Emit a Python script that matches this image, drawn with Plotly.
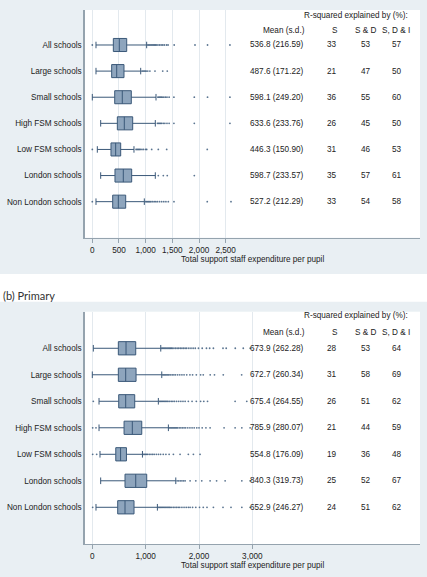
import plotly.graph_objects as go

# ---------------- data ----------------
categories = ["All schools", "Large schools", "Small schools", "High FSM schools",
              "Low FSM schools", "London schools", "Non London schools"]

# (a) Secondary panel (top)
sec_lowerfence = [69, 69, 0, 157, 94, 157, 69]
sec_q1 = [394, 363, 420, 469, 350, 425, 382]
sec_median = [506, 457, 562, 600, 438, 581, 488]
sec_q3 = [645, 594, 731, 757, 532, 738, 626]
sec_upperfence = [1019, 907, 1194, 1181, 781, 1181, 975]
sec_outliers = [
    [0, 1040, 1060, 1080, 1100, 1120, 1140, 1160, 1180, 1200, 1230, 1260, 1290, 1320, 1350, 1390, 1420, 1535, 1925, 2160, 2580],
    [930, 950, 970, 990, 1010, 1040, 1080, 1175, 1320, 1405],
    [1230, 1250, 1270, 1290, 1310, 1340, 1370, 1400, 1440, 1530, 1912, 2160, 2580],
    [1220, 1240, 1260, 1280, 1300, 1330, 1360, 1400, 1440, 1530, 1912, 2580],
    [0, 820, 840, 860, 880, 900, 930, 960, 1000, 1020, 1113, 1237, 1394, 2155],
    [1237, 1331, 1405, 1912],
    [0, 1000, 1020, 1040, 1060, 1080, 1100, 1130, 1160, 1190, 1220, 1260, 1300, 1340, 1380, 1425, 1531, 2155, 2600],
]
sec_mean = [536.8, 487.6, 598.1, 633.6, 446.3, 598.7, 527.2]
sec_sd = [216.59, 171.22, 249.20, 233.76, 150.90, 233.57, 212.29]
sec_r2_s = [33, 21, 36, 26, 31, 35, 33]
sec_r2_sd = [53, 47, 55, 45, 46, 57, 54]
sec_r2_sdi = [57, 50, 60, 50, 53, 61, 58]
sec_ticks = [0, 500, 1000, 1500, 2000, 2500]

# (b) Primary panel (bottom)
pri_lowerfence = [19, 0, 126, 126, 144, 157, 69]
pri_q1 = [488, 488, 495, 595, 440, 613, 476]
pri_median = [632, 626, 626, 750, 530, 814, 613]
pri_q3 = [814, 820, 795, 927, 640, 1020, 782]
pri_upperfence = [1283, 1302, 1238, 1426, 940, 1565, 1220]
pri_outliers = [
    [1300, 1320, 1340, 1360, 1380, 1400, 1420, 1440, 1460, 1480, 1500, 1530, 1560, 1590, 1620, 1650, 1680, 1710, 1740, 1770,
     1810, 1850, 1890, 1930, 1990, 2060, 2140, 2200, 2270, 2450, 2510, 2680, 2830, 2960],
    [1320, 1340, 1360, 1380, 1400, 1420, 1440, 1470, 1500, 1530, 1560, 1600, 1640, 1680, 1720, 1770,
     1830, 1880, 1950, 2030, 2080, 2210, 2290, 2455, 2800],
    [19, 1260, 1280, 1300, 1320, 1340, 1360, 1380, 1400, 1420, 1450, 1480, 1510, 1540, 1580, 1620, 1660, 1700, 1740,
     1800, 1870, 1950, 2030, 2090, 2160, 2677, 2896],
    [7, 69, 1440, 1460, 1480, 1500, 1520, 1540, 1560, 1580, 1600, 1630, 1660, 1690, 1720, 1750, 1790, 1830, 1870, 1910, 1958,
     2000, 2060, 2130, 2208, 2470, 2677, 2803, 2958],
    [7, 82, 960, 980, 1000, 1020, 1040, 1070, 1100, 1130, 1160, 1200, 1240, 1280, 1330, 1380, 1440, 1520, 1645, 1800, 1895, 2020],
    [1590, 1620, 1650, 1680, 1710, 1740, 1833, 1940, 2052, 2208, 2330, 2490, 2803, 2958],
    [7, 1240, 1260, 1280, 1300, 1320, 1340, 1360, 1380, 1400, 1420, 1440, 1460, 1490, 1520, 1550, 1580, 1610, 1640, 1680,
     1720, 1760, 1800, 1833, 1880, 1940, 2010, 2080, 2150, 2270, 2450, 2600, 2803, 2958],
]
pri_mean = [673.9, 672.7, 675.4, 785.9, 554.8, 840.3, 652.9]
pri_sd = [262.28, 260.34, 264.55, 280.07, 176.09, 319.73, 246.27]
pri_r2_s = [28, 31, 26, 21, 19, 25, 24]
pri_r2_sd = [53, 58, 51, 44, 36, 52, 51]
pri_r2_sdi = [64, 69, 62, 59, 48, 67, 62]
pri_ticks = [0, 1000, 2000, 3000]

x_title = "Total support staff expenditure per pupil"
panel_b_label = "(b) Primary"

# ---------------- styling ----------------
W, H = 427, 577
ML, MR = 85, 7
PW = W - ML - MR
BG = "#e9eff3"
GRID = "#e3e9ee"
BOX_FILL = "#8ea5bd"
BOX_LINE = "#3a5878"
AXIS = "#95a3ae"
TXT = "#222222"
FONT = "Liberation Sans, Arial, sans-serif"
FS = 8.2


def px_x(px):
    return (px - ML) / PW


def px_y(py):
    return 1 - py / H


fig = go.Figure()

panels = [
    dict(ax="x", ay="y", lf=sec_lowerfence, q1=sec_q1, med=sec_median, q3=sec_q3, uf=sec_upperfence,
         out=sec_outliers),
    dict(ax="x2", ay="y2", lf=pri_lowerfence, q1=pri_q1, med=pri_median, q3=pri_q3, uf=pri_upperfence,
         out=pri_outliers),
]

for p in panels:
    fig.add_trace(go.Box(
        orientation="h", y=categories, q1=p["q1"], median=p["med"], q3=p["q3"],
        lowerfence=p["lf"], upperfence=p["uf"], boxpoints=False,
        fillcolor=BOX_FILL, line=dict(color=BOX_LINE, width=1), width=0.5, whiskerwidth=0.5,
        xaxis=p["ax"], yaxis=p["ay"], showlegend=False, hoverinfo="skip"))
    ox, oy = [], []
    for cat, vals in zip(categories, p["out"]):
        ox.extend(vals)
        oy.extend([cat] * len(vals))
    fig.add_trace(go.Scatter(
        x=ox, y=oy, mode="markers",
        marker=dict(size=1.8, color="#3d5c7c", opacity=0.85, symbol="circle", line=dict(width=0)),
        xaxis=p["ax"], yaxis=p["ay"], showlegend=False, hoverinfo="skip"))

xrange = [-137, 6143]
common_x = dict(range=xrange, showgrid=True, gridcolor=GRID, gridwidth=1, zeroline=False,
                showline=True, linecolor=AXIS, linewidth=1, ticks="outside", ticklen=4,
                tickcolor=AXIS, tickfont=dict(family=FONT, size=FS, color=TXT), tickformat=",d")
common_y = dict(type="category", categoryarray=categories, showgrid=False, zeroline=False,
                showline=True, linecolor=AXIS, linewidth=1.5, ticks="",
                tickfont=dict(family=FONT, size=FS, color=TXT))

top_dom = [px_y(237.7), px_y(10)]
bot_dom = [px_y(544), px_y(311.7)]

fig.update_layout(
    width=W, height=H, margin=dict(l=ML, r=MR, t=0, b=0),
    paper_bgcolor=BG, plot_bgcolor="white",
    xaxis=dict(common_x, domain=[0, 1], anchor="y", tickvals=sec_ticks),
    yaxis=dict(common_y, domain=top_dom, anchor="x", range=[7.38, -1.34]),
    xaxis2=dict(common_x, domain=[0, 1], anchor="y2", tickvals=pri_ticks),
    yaxis2=dict(common_y, domain=bot_dom, anchor="x2", range=[7.385, -1.38]),
)

# white band between panels with panel label
fig.add_shape(type="rect", xref="paper", yref="paper", x0=px_x(0), x1=px_x(W),
              y0=px_y(301.7), y1=px_y(274), fillcolor="white", line=dict(width=0), layer="below")
fig.add_annotation(text=panel_b_label, xref="paper", yref="paper", x=px_x(1), y=px_y(295.5),
                   xanchor="left", yanchor="middle", showarrow=False,
                   font=dict(family="Lato, Open Sans, sans-serif", size=11, color="#333333"))

ann_font = dict(family=FONT, size=FS, color=TXT)


def add_text(text, x, y, yref, xanchor="center"):
    fig.add_annotation(text=text, xref="paper", yref=yref, x=x, y=y, xanchor=xanchor,
                       yanchor="middle", showarrow=False, font=ann_font)


tables = [
    dict(yref="y", head1=15.7, head2=30.5, mean=sec_mean, sd=sec_sd, s=sec_r2_s, sd2=sec_r2_sd, sdi=sec_r2_sdi),
    dict(yref="y2", head1=315.7, head2=332.5, mean=pri_mean, sd=pri_sd, s=pri_r2_s, sd2=pri_r2_sd, sdi=pri_r2_sdi),
]
for t in tables:
    add_text("R-squared explained by (%):", px_x(355.8), px_y(t["head1"]), "paper")
    add_text("Mean (s.d.)", px_x(306.5), px_y(t["head2"]), "paper", xanchor="right")
    add_text("S", px_x(335), px_y(t["head2"]), "paper")
    add_text("S &amp; D", px_x(365.8), px_y(t["head2"]), "paper")
    add_text("S, D &amp; I", px_x(395.5), px_y(t["head2"]), "paper")
    for i in range(len(categories)):
        add_text(f"{t['mean'][i]:.1f} ({t['sd'][i]:.2f})", px_x(306.3), i, t["yref"], xanchor="right")
        add_text(str(t["s"][i]), px_x(331.7), i, t["yref"])
        add_text(str(t["sd2"][i]), px_x(365.8), i, t["yref"])
        add_text(str(t["sdi"][i]), px_x(396.7), i, t["yref"])

# x-axis titles
add_text(x_title, px_x(252.5), px_y(259), "paper")
add_text(x_title, px_x(252.5), px_y(565), "paper")

fig.write_html("out.html")
